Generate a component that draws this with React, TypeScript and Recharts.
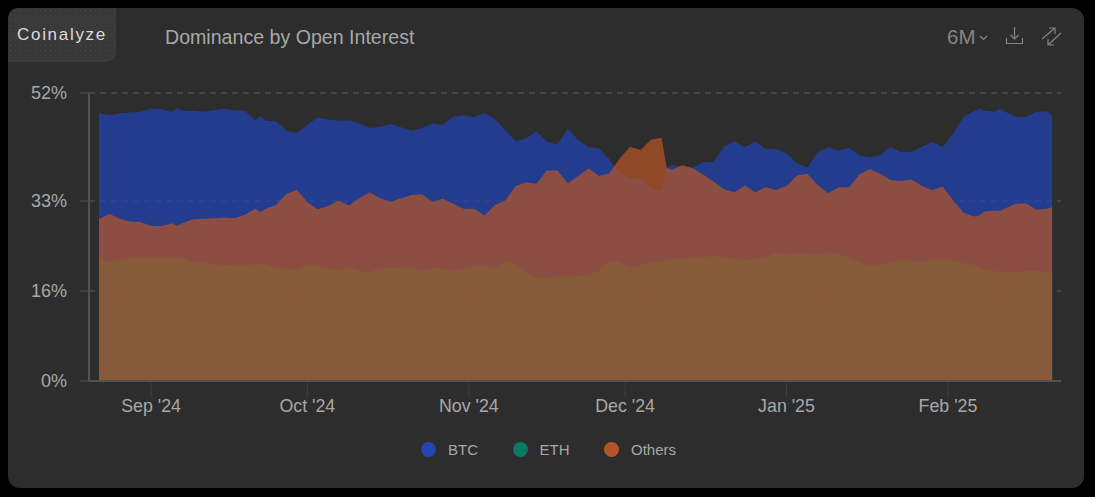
import { Area, AreaChart, CartesianGrid, Legend, XAxis, YAxis } from "recharts";

const DAY = 86400000;
const START = Date.UTC(2024, 7, 22);

// a reading every two days, plus odd days where a spike falls between them
const dayOffsets = [
  0, 2, 4, 6, 8, 10, 12, 14, 15, 16, 18, 20, 22, 24, 26, 28, 30, 31, 32, 34, 36, 38, 40, 42, 44, 46, 48, 50, 52, 54, 56, 58, 60,
  62, 64, 66, 68, 70, 72, 74, 76, 78, 80, 82, 84, 86, 88, 90, 92, 94, 96, 98, 100, 102, 104, 106, 108, 109, 110, 112, 114,
  116, 118, 120, 122, 124, 126, 128, 130, 132, 134, 136, 138, 140, 142, 144, 146, 148, 150, 152, 154, 156, 158, 160,
  162, 164, 166, 168, 169, 170, 172, 173, 174, 176, 178, 180, 182, 183,
];

const btc = [
  48.4, 48.0, 48.3, 48.5, 48.6, 49.2, 49.1, 48.6, 49.3, 48.8, 48.8, 48.6, 48.9, 49.1, 48.9, 48.8, 47.1, 47.9, 47.0, 46.9, 45.2,
  44.8, 46.2, 47.6, 47.2, 47.0, 47.1, 46.5, 45.7, 45.9, 46.4, 45.8, 45.2, 45.7, 46.5, 46.2, 47.7, 48.0, 47.6, 48.4,
  47.3, 45.3, 43.3, 43.8, 45.1, 43.2, 42.7, 45.6, 43.5, 42.2, 42.0, 40.0, 37.5, 36.6, 36.6, 34.8, 34.3, 38.5, 39.0, 38.7,
  38.5, 39.5, 39.6, 42.3, 43.3, 42.2, 43.2, 41.9, 41.9, 41.1, 39.3, 38.5, 41.3, 42.2, 41.6, 42.1, 40.7, 40.4, 40.8,
  42.2, 41.3, 41.4, 42.3, 43.2, 42.2, 44.7, 47.7, 48.7, 49.2, 48.8, 48.6, 49.2, 48.6, 47.7, 47.7, 48.6, 48.7, 48.0,
];

const eth = [
  22.0, 21.6, 21.8, 22.3, 22.2, 22.3, 22.3, 22.3, 22.3, 22.2, 21.4, 21.4, 21.1, 20.9, 21.0, 20.8, 21.1, 21.1, 21.1, 20.4, 20.3,
  20.0, 20.9, 20.8, 20.4, 19.8, 20.6, 19.9, 19.6, 20.4, 20.4, 20.5, 20.5, 19.9, 20.4, 20.3, 19.8, 20.3, 20.8, 20.9,
  20.2, 21.7, 21.1, 19.7, 18.7, 18.4, 19.0, 18.7, 19.0, 19.0, 20.0, 21.8, 21.4, 20.5, 20.9, 21.5, 21.4, 22.0, 22.2, 22.0,
  22.4, 22.3, 22.6, 22.3, 22.1, 21.8, 22.0, 22.4, 23.1, 22.8, 23.1, 23.1, 22.8, 23.2, 23.0, 22.3, 21.4, 20.7, 21.0,
  21.3, 21.8, 21.7, 21.5, 21.8, 22.0, 21.7, 21.3, 20.9, 20.4, 20.0, 19.9, 19.6, 19.6, 19.6, 19.9, 19.9, 19.7, 19.6,
];

const others = [
  29.2, 30.2, 29.3, 28.8, 28.7, 28.0, 28.0, 28.5, 28.0, 28.5, 29.2, 29.3, 29.4, 29.5, 29.4, 30.0, 31.1, 30.5, 31.1, 31.8, 33.8,
  34.5, 32.3, 31.0, 31.6, 32.6, 31.7, 33.0, 34.1, 33.0, 32.3, 33.0, 33.6, 33.7, 32.3, 32.9, 32.0, 31.1, 31.1, 29.9,
  31.8, 32.6, 35.2, 35.9, 35.6, 38.0, 38.0, 35.7, 37.0, 38.4, 37.0, 37.5, 40.2, 42.3, 41.7, 43.6, 43.9, 38.5, 38.1, 39.0,
  38.4, 37.3, 36.0, 34.6, 34.1, 35.3, 34.1, 35.0, 34.5, 35.2, 37.1, 37.4, 35.4, 33.9, 35.0, 35.0, 37.3, 38.3, 37.4,
  36.3, 36.1, 36.4, 35.2, 34.5, 35.1, 32.6, 30.4, 29.7, 29.9, 30.6, 30.8, 30.7, 31.2, 32.0, 32.1, 30.9, 31.1, 31.4,
];

const monthTicks = [
  Date.UTC(2024, 8, 1),
  Date.UTC(2024, 9, 1),
  Date.UTC(2024, 10, 1),
  Date.UTC(2024, 11, 1),
  Date.UTC(2025, 0, 1),
  Date.UTC(2025, 1, 1),
];
const monthLabels = ["Sep '24", "Oct '24", "Nov '24", "Dec '24", "Jan '25", "Feb '25"];
const yTicks = [0, 16.25, 32.5, 52];

const legendItems = [
  { name: "BTC", color: "#2444b4" },
  { name: "ETH", color: "#0b7a64" },
  { name: "Others", color: "#b5542a" },
];

const chartData = dayOffsets.map((d, i) => ({
  time: START + d * DAY,
  BTC: btc[i],
  ETH: eth[i],
  Others: others[i],
}));

const FONT = '"Liberation Sans", Arial, sans-serif';
const GREY = "#a8a8a8";

const ChartLegend = () => (
  <div style={{ display: "flex", alignItems: "center", fontFamily: FONT, fontSize: 15, color: GREY }}>
    {legendItems.map((item) => (
      <div key={item.name} style={{ position: "absolute", left: item.name === "BTC" ? 0 : item.name === "ETH" ? 91.5 : 183, display: "flex", alignItems: "center" }}>
        <span style={{ width: 15, height: 15, borderRadius: "50%", background: item.color, marginRight: 12 }} />
        <span>{item.name}</span>
      </div>
    ))}
  </div>
);

export default function App() {
  return (
    <div style={{ position: "absolute", left: 0, top: 0, width: 1095, height: 497, background: "#000", overflow: "hidden" }}>
      <div style={{ position: "absolute", left: 8, top: 8, width: 1076, height: 480, background: "#2d2d2d", borderRadius: 12 }} />
      <div
        style={{
          position: "absolute",
          left: 8,
          top: 8,
          width: 108,
          height: 54,
          borderRadius: "10px 0 10px 0",
          backgroundColor: "#393939",
          backgroundImage: "radial-gradient(#474747 0.7px, transparent 0.8px)",
          backgroundSize: "5px 5px",
          color: "#dcdcdc",
          fontFamily: FONT,
          fontSize: 17,
          letterSpacing: 1.7,
          lineHeight: "54px",
          textAlign: "center",
        }}
      >
        Coinalyze
      </div>
      <div style={{ position: "absolute", left: 165, top: 24, fontFamily: FONT, fontSize: 19.6, lineHeight: "26px", color: GREY }}>
        Dominance by Open Interest
      </div>
      <div style={{ position: "absolute", left: 947, top: 24, fontFamily: FONT, fontSize: 20.5, lineHeight: "26px", color: "#858585" }}>6M</div>
      <svg style={{ position: "absolute", left: 970, top: 24 }} width="95" height="26" fill="none" stroke="#858585" strokeWidth="1.2">
        <path d="M10 12 L13.5 15.5 L17 12" />
        <path d="M44.5 3 V15 M40.5 11 L44.5 15 L48.5 11 M36.5 14 V19.5 H52.5 V14" />
        <path d="M72 15 L85 4 M79 4 H85 V10 M91 9 L78 21 M78 15 V21 H84" />
      </svg>
      <div style={{ position: "absolute", left: 0, top: 0 }}>
        <AreaChart width={1095} height={497} data={chartData} margin={{ top: 93, right: 34, bottom: 70, left: 29 }}>
          <CartesianGrid vertical={false} stroke="#5a5a5a" strokeDasharray="6 5" />
          <XAxis
            dataKey="time"
            type="number"
            scale="linear"
            domain={[START - 1.92 * DAY, START + 184.7 * DAY]}
            ticks={monthTicks}
            tickFormatter={(v: number) => monthLabels[monthTicks.indexOf(v)]}
            height={30}
            axisLine={{ stroke: "#525252", strokeWidth: 2 }}
            tickLine={{ stroke: "#4c4c4c", strokeDasharray: "1 1" }}
            tickSize={16}
            tickMargin={2}
            interval={0}
            tick={{ fill: GREY, fontSize: 17.8, fontFamily: FONT }}
          />
          <YAxis
            type="number"
            domain={[0, 52]}
            ticks={yTicks}
            tickFormatter={(v: number) => `${Math.round(v)}%`}
            width={60}
            axisLine={{ stroke: "#525252", strokeWidth: 2 }}
            tickLine={{ stroke: "#525252" }}
            tickSize={9}
            tickMargin={13}
            interval={0}
            tick={{ fill: GREY, fontSize: 18, fontFamily: FONT }}
          />
          <Area type="linear" dataKey="BTC" stroke="none" fill="#2042b4" fillOpacity={0.72} isAnimationActive={false} />
          <Area type="linear" dataKey="ETH" stroke="none" fill="#0b7a64" fillOpacity={0.72} isAnimationActive={false} />
          <Area type="linear" dataKey="Others" stroke="none" fill="#b55526" fillOpacity={0.72} isAnimationActive={false} />
          <Legend content={<ChartLegend />} wrapperStyle={{ position: "absolute", left: 421, top: 449, width: 300, height: 16 }} />
        </AreaChart>
      </div>
    </div>
  );
}
